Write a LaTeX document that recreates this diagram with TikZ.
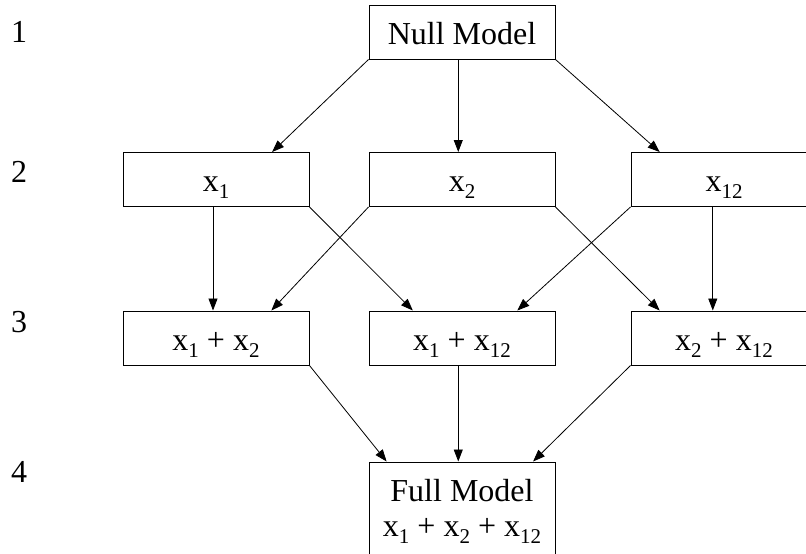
\documentclass[tikz,border=0pt]{standalone}
\usepackage{fontspec}
\setmainfont{Liberation Serif}
\usetikzlibrary{calc, positioning, arrows.meta}

\newcommand{\sbs}[1]{\raisebox{-0.22em}{\fontsize{21}{21}\selectfont #1}}
\newcommand{\vx}[1]{x\sbs{#1}}

\tikzset{
  model/.style={draw, line width=1pt, minimum width=186pt, minimum height=54pt,
    inner sep=0pt, text height=24pt, text depth=0pt},
  fullmodel/.style={draw, line width=1pt, minimum width=186pt, minimum height=98pt,
    inner sep=0pt, align=center},
  arr/.style={-{Triangle[length=12pt,width=9pt]}, line width=0.8pt},
  rowlab/.style={anchor=base},
}

\begin{document}
\begin{tikzpicture}[x=1pt, y=-1pt, font=\fontsize{32}{35}\selectfont]
    \useasboundingbox (0,0) rectangle (806,554);
    \clip (0,0) rectangle (806,554);

    % levels
    \node[rowlab] (lev1) at (19,42) {1};
    \node[rowlab] (lev2) at (19,182) {2};
    \node[rowlab] (lev3) at (19,332) {3};
    \node[rowlab] (lev4) at (19,482) {4};

    % models
    \node[model] (null) at (462,32) {Null Model};
    \node[model] (m1) at (216,179.5) {\vx{1}};
    \node[model] (m2) at (462,179.5) {\vx{2}};
    \node[model] (m12) at (724,179.5) {\vx{12}};
    \node[model] (m1m2) at (216,338) {\vx{1} + \vx{2}};
    \node[model] (m1m12) at (462,338) {\vx{1} + \vx{12}};
    \node[model] (m2m12) at (724,338) {\vx{2} + \vx{12}};
    \node[fullmodel] (full) at (462,511) {Full Model\\\vx{1} + \vx{2} + \vx{12}};

    % level 1 -> 2
    \draw[arr] (null.south west) -- ($(m1.north west)!0.8!(m1.north east)$);
    \draw[arr] ($(null.south west)!0.48!(null.south east)$) -- ($(m2.north west)!0.48!(m2.north east)$);
    \draw[arr] (null.south east) -- ($(m12.north west)!0.156!(m12.north east)$);

    % level 2 -> 3
    \draw[arr] ($(m1.south west)!0.484!(m1.south east)$) -- ($(m1m2.north west)!0.484!(m1m2.north east)$);
    \draw[arr] (m1.south east) -- ($(m1m12.north west)!0.237!(m1m12.north east)$);
    \draw[arr] (m2.south west) -- ($(m1m2.north west)!0.796!(m1m2.north east)$);
    \draw[arr] (m2.south east) -- ($(m2m12.north west)!0.156!(m2m12.north east)$);
    \draw[arr] (m12.south west) -- ($(m1m12.north west)!0.796!(m1m12.north east)$);
    \draw[arr] ($(m12.south west)!0.44!(m12.south east)$) -- ($(m2m12.north west)!0.44!(m2m12.north east)$);

    % level 3 -> 4
    \draw[arr] (m1m2.south east) -- ($(full.north west)!0.097!(full.north east)$);
    \draw[arr] ($(m1m12.south west)!0.48!(m1m12.south east)$) -- ($(full.north west)!0.48!(full.north east)$);
    \draw[arr] (m2m12.south west) -- ($(full.north west)!0.88!(full.north east)$);
\end{tikzpicture}
\end{document}
